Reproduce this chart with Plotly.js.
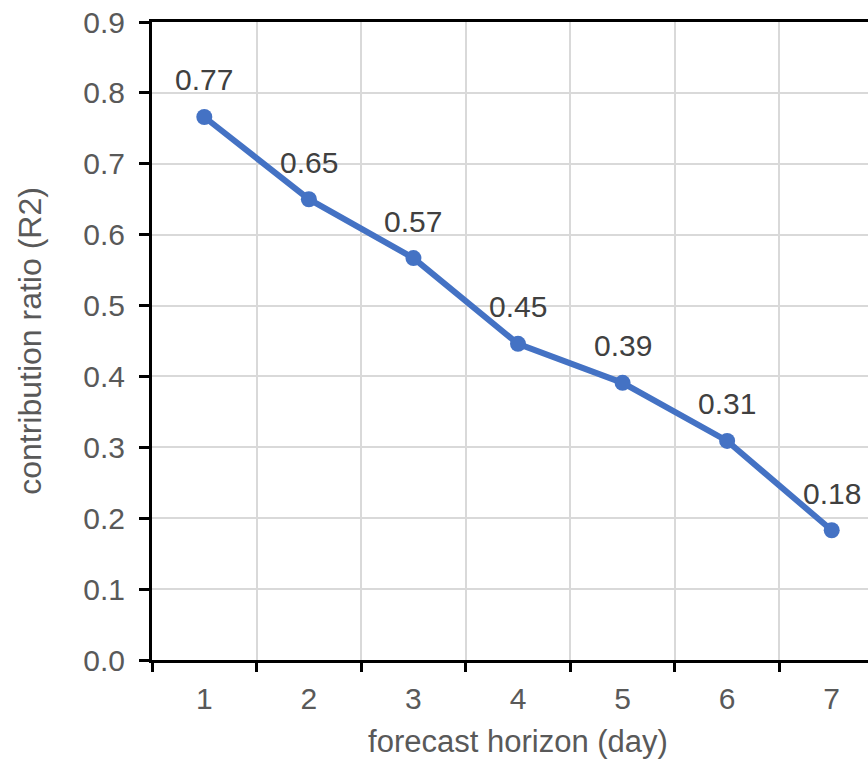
<!DOCTYPE html>
<html>
<head>
<meta charset="utf-8">
<script src="https://cdn.plot.ly/plotly-3.0.1.min.js"></script>
<style>
html,body{margin:0;padding:0;overflow:hidden;background:#fff;}
#chart{width:884px;height:759px;}
</style>
</head>
<body>
<div id="chart"></div>
<script>
const days = [1, 2, 3, 4, 5, 6, 7];
const dayLabels = ["1", "2", "3", "4", "5", "6", "7"];
const r2 = [0.766, 0.650, 0.567, 0.446, 0.391, 0.309, 0.183];
const r2Labels = ["0.77", "0.65", "0.57", "0.45", "0.39", "0.31", "0.18"];

const FONT = "Liberation Sans, Arial, sans-serif";
const trace = {
  x: days, y: r2, type: "scatter", mode: "lines+markers",
  line: {color: "#4472C4", width: 6},
  marker: {color: "#4472C4", size: 16},
  hoverinfo: "skip"
};

const annotations = days.map((d, i) => ({
  x: d, y: r2[i], xref: "x", yref: "y", text: r2Labels[i], showarrow: false,
  yshift: 37, font: {family: FONT, size: 30, color: "#404040"}
}));

const layout = {
  width: 884, height: 759,
  margin: {l: 152, r: 0, t: 22, b: 99},
  paper_bgcolor: "#fff", plot_bgcolor: "#fff",
  showlegend: false,
  font: {family: FONT, size: 30, color: "#595959"},
  xaxis: {
    range: [0.5, 7.5], tickvals: days, ticktext: dayLabels,
    showgrid: false, ticks: "", zeroline: false,
    showline: true, linecolor: "#000", linewidth: 3, mirror: true,
    tickfont: {family: FONT, size: 30, color: "#595959"},
    ticklabelstandoff: 10,
    minor: {tick0: 0.5, dtick: 1, ticks: "outside", ticklen: 9, tickwidth: 3, tickcolor: "#000",
            showgrid: true, gridcolor: "#d9d9d9", gridwidth: 2},
    title: {text: "forecast horizon (day)", font: {family: FONT, size: 31, color: "#595959"}, standoff: 17}
  },
  yaxis: {
    range: [0, 0.9], dtick: 0.1, tick0: 0, tickformat: ".1f",
    showgrid: true, gridcolor: "#d9d9d9", gridwidth: 2, zeroline: false,
    showline: true, linecolor: "#000", linewidth: 3,
    ticks: "outside", ticklen: 10, tickwidth: 3, tickcolor: "#000",
    ticklabelstandoff: 8,
    tickfont: {family: FONT, size: 30, color: "#595959"},
    title: {text: "contribution ratio (R2)", font: {family: FONT, size: 32, color: "#595959"}, standoff: 33}
  },
  annotations: annotations
};

Plotly.newPlot("chart", [trace], layout, {displayModeBar: false, staticPlot: true});
</script>
</body>
</html>
